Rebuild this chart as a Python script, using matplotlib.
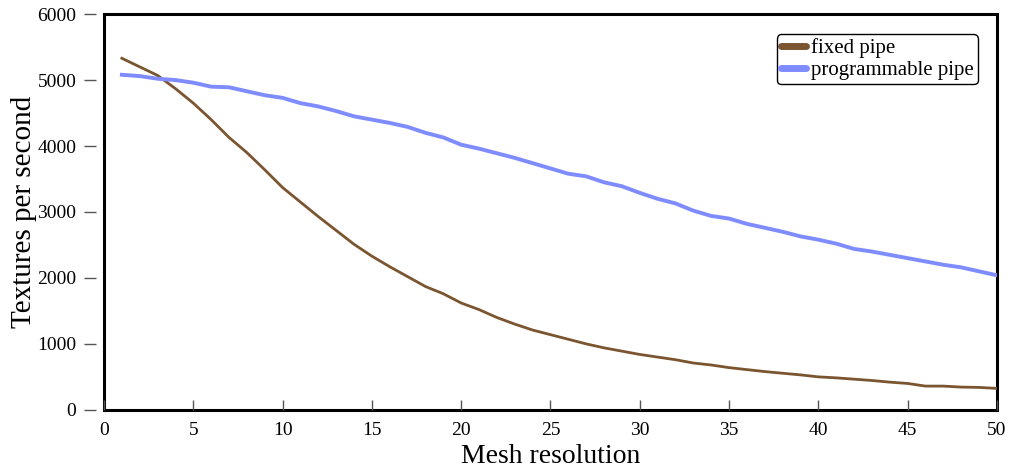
import matplotlib
matplotlib.use('Agg')
import matplotlib.pyplot as plt

plt.rcParams['font.family'] = ['Liberation Serif', 'DejaVu Serif']

resolution = list(range(1, 51))
fixed_pipe = [5330, 5200, 5070, 4870, 4650, 4400, 4130, 3900, 3640, 3370,
              3150, 2930, 2720, 2510, 2330, 2170, 2020, 1870, 1760, 1620,
              1520, 1400, 1300, 1210, 1140, 1070, 1000, 940, 890, 840,
              800, 760, 710, 680, 640, 610, 580, 555, 530, 500,
              485, 465, 445, 420, 400, 360, 360, 345, 340, 325]
programmable_pipe = [5080, 5060, 5020, 5000, 4960, 4900, 4890, 4830, 4770, 4730,
                     4650, 4600, 4530, 4450, 4400, 4350, 4290, 4200, 4130, 4020,
                     3960, 3890, 3820, 3740, 3660, 3580, 3540, 3450, 3390, 3290,
                     3200, 3130, 3020, 2940, 2900, 2820, 2760, 2700, 2630, 2580,
                     2520, 2440, 2400, 2350, 2300, 2250, 2200, 2160, 2100, 2040]
xticks = [0, 5, 10, 15, 20, 25, 30, 35, 40, 45, 50]
yticks = [0, 1000, 2000, 3000, 4000, 5000, 6000]

fig = plt.figure(figsize=(10.1, 4.7), dpi=100)
ax = fig.add_axes([0.103, 0.128, 0.884, 0.842])

ax.plot(resolution, fixed_pipe, color='#7a5530', lw=2, label='fixed pipe')
ax.plot(resolution, programmable_pipe, color='#7f8cff', lw=2.8, label='programmable pipe')

ax.set_xlim(0, 50)
ax.set_ylim(0, 6000)
ax.set_xticks(xticks)
ax.set_yticks(yticks)

# frame drawn by the patch, left spine pushed out so the y ticks float
ax.patch.set_edgecolor('black')
ax.patch.set_linewidth(2.2)
for s in ['top', 'right', 'bottom']:
    ax.spines[s].set_visible(False)
ax.spines['left'].set_position(('outward', 6))
ax.spines['left'].set_color('none')

ax.tick_params(axis='x', direction='in', length=7, width=1, color='#555555',
               labelsize=14, pad=9)
ax.tick_params(axis='y', direction='out', length=9, width=1, color='#555555',
               labelsize=14, pad=5)

ax.set_xlabel('Mesh resolution', fontsize=20, labelpad=3)
ax.set_ylabel('Textures per second', fontsize=21, labelpad=0)

leg = ax.legend(loc='upper right', fontsize=15, handlelength=1.2, handletextpad=0.2,
                borderpad=0.2, labelspacing=0.1, fancybox=True, framealpha=1,
                edgecolor='black', bbox_to_anchor=(0.99, 0.975))
for line in leg.get_lines():
    line.set_linewidth(5)
    line.set_solid_capstyle('round')
leg.get_frame().set_linewidth(1)

fig.savefig('out.png', dpi=100)
